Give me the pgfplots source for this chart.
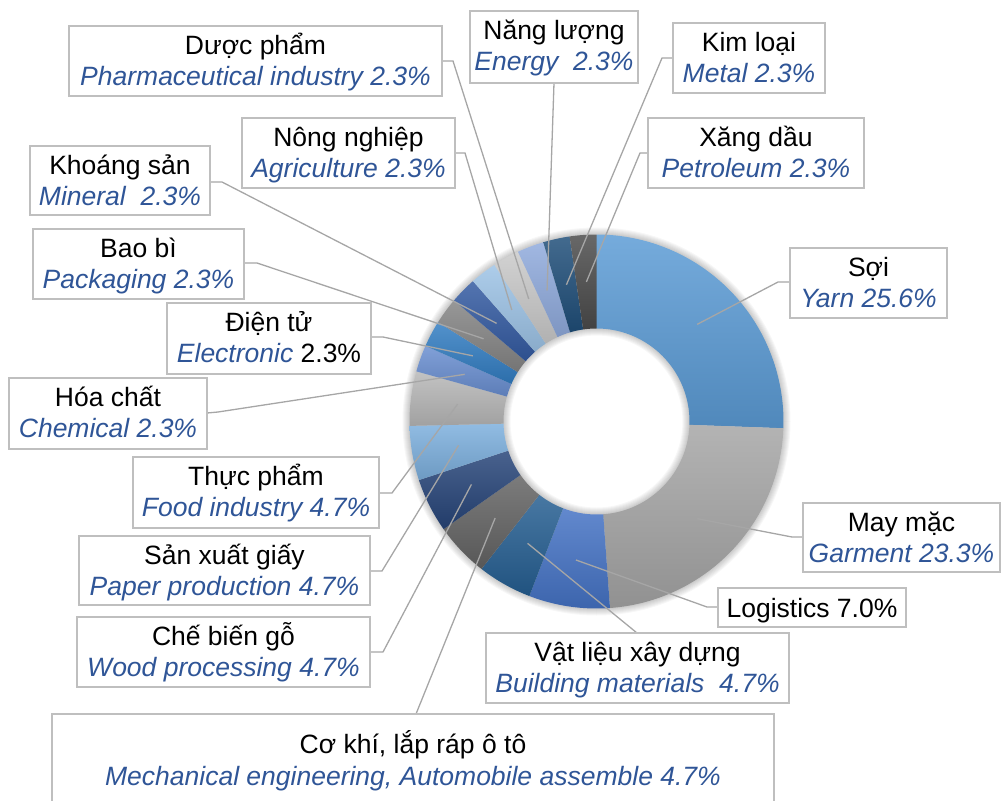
\documentclass[border=0pt]{standalone}
\usepackage{fontspec}
\setmainfont{Liberation Sans}
\usepackage{pgfplots}
\pgfplotsset{compat=1.18}

\definecolor{c1}{HTML}{5B9BD5}
\definecolor{c2}{HTML}{A5A5A5}
\definecolor{c3}{HTML}{4472C4}
\definecolor{c4}{HTML}{255E91}
\definecolor{c5}{HTML}{636363}
\definecolor{c6}{HTML}{264478}
\definecolor{c7}{HTML}{7CAFDD}
\definecolor{c8}{HTML}{B7B7B7}
\definecolor{c9}{HTML}{698ED0}
\definecolor{c10}{HTML}{327DC2}
\definecolor{c11}{HTML}{848484}
\definecolor{c12}{HTML}{335AA1}
\definecolor{c13}{HTML}{9DC3E6}
\definecolor{c14}{HTML}{C9C9C9}
\definecolor{c15}{HTML}{8FAADC}
\definecolor{c16}{HTML}{1F4E79}
\definecolor{c17}{HTML}{4B4B4B}
\definecolor{ltxt}{HTML}{2F5597}
\definecolor{boxc}{HTML}{BFBFBF}
\definecolor{leadc}{HTML}{A6A6A6}

\def\cx{596.5}
\def\cy{421.5}
\def\Ro{187}
\def\Ri{93}
\def\Rm{140}
\def\k{3.596404}

% #1 start (cumulative %), #2 end (cumulative %), #3 colour, #4 index
\newcommand\slice[4]{%
  \shade[top color=#3!84!white, bottom color=#3!88!black]
    (axis cs:{\cx+\Ro*cos(90-\k*#1)},{\cy-\Ro*sin(90-\k*#1)})
    arc[start angle={90-\k*#1}, end angle={90-\k*#2}, radius=\Ro pt]
    -- (axis cs:{\cx+\Ri*cos(90-\k*#2)},{\cy-\Ri*sin(90-\k*#2)})
    arc[start angle={90-\k*#2}, end angle={90-\k*#1}, radius=\Ri pt] -- cycle;
  \coordinate (m#4) at (axis cs:{\cx+\Rm*cos(90-\k*(#1+#2)/2)},{\cy-\Rm*sin(90-\k*(#1+#2)/2)});
}
\newcommand\B[1]{{\color{ltxt}\itshape #1}}
\newcommand\lab[6]{%
  \filldraw[fill=white, draw=boxc, line width=1.4pt] (axis cs:#1,#2) rectangle (axis cs:#3,#4);
  \node[anchor=base, inner sep=0pt] at (axis cs:{(#1+#3)/2},{#2+28.5}) {#5};
  \node[anchor=base, inner sep=0pt] at (axis cs:{(#1+#3)/2},{#2+59.5}) {#6};
}

\begin{document}
\fontsize{26.5}{31}\selectfont
\begin{tikzpicture}[every node/.style={font=\fontsize{26.5}{31}\selectfont}]
\begin{axis}[name=ax, x=1pt, y=1pt, xmin=0, xmax=1005, ymin=0, ymax=801,
  y dir=reverse, hide axis, clip=false]
% soft shadow
\pgfplotsinvokeforeach{1,...,7}{
  \fill[black, opacity=0.03, even odd rule] (axis cs:\cx,\cy) circle[radius={(\Ro+#1)*1pt}]
     (axis cs:\cx,\cy) circle[radius={(\Ri-#1)*1pt}];
}
% slices: cumulative percentages
\slice{0}{25.6}{c1}{1}     % Soi 25.6
\slice{25.6}{48.9}{c2}{2}  % May mac 23.3
\slice{48.9}{55.9}{c3}{3}  % Logistics 7.0
\slice{55.9}{60.6}{c4}{4}  % Vat lieu 4.7
\slice{60.6}{65.3}{c5}{5}  % Co khi 4.7
\slice{65.3}{70.0}{c6}{6}  % Che bien go 4.7
\slice{70.0}{74.7}{c7}{7}  % San xuat giay 4.7
\slice{74.7}{79.4}{c8}{8}  % Thuc pham 4.7
\slice{79.4}{81.7}{c9}{9}  % Hoa chat 2.3
\slice{81.7}{84.0}{c10}{10} % Dien tu 2.3
\slice{84.0}{86.3}{c11}{11} % Bao bi 2.3
\slice{86.3}{88.6}{c12}{12} % Khoang san 2.3
\slice{88.6}{90.9}{c13}{13} % Nong nghiep 2.3
\slice{90.9}{93.2}{c14}{14} % Duoc pham 2.3
\slice{93.2}{95.5}{c15}{15} % Nang luong 2.3
\slice{95.5}{97.8}{c16}{16} % Kim loai 2.3
\slice{97.8}{100.1}{c17}{17} % Xang dau 2.3
% leader lines
\begin{scope}[leadc, line width=1.3pt]
\draw (axis cs:790,282) -- (axis cs:778,282) -- (m1);
\draw (axis cs:803,537) -- (axis cs:792,537) -- (m2);
\draw (axis cs:718,607) -- (axis cs:707,607) -- (m3);
\draw (axis cs:637,633) -- (m4);
\draw (axis cs:416,714) -- (m5);
\draw (axis cs:370,652) -- (axis cs:383,652) -- (m6);
\draw (axis cs:370,571) -- (axis cs:382,571) -- (m7);
\draw (axis cs:379,493) -- (axis cs:392,493) -- (m8);
\draw (axis cs:207,413) -- (axis cs:218,412) -- (m9);
\draw (axis cs:371,337) -- (axis cs:383,337) -- (m10);
\draw (axis cs:244,263) -- (axis cs:257,263) -- (m11);
\draw (axis cs:210,182) -- (axis cs:222,182) -- (m12);
\draw (axis cs:455,153) -- (axis cs:465,153) -- (m13);
\draw (axis cs:442,61) -- (axis cs:453,61) -- (m14);
\draw (axis cs:554,83) -- (m15);
\draw (axis cs:673,58) -- (axis cs:662,58) -- (m16);
\draw (axis cs:648,153) -- (axis cs:640,153) -- (m17);
\end{scope}
% labels
\lab{790}{248}{947}{318}{Sợi}{\B{Yarn 25.6\%}}
\lab{803}{503}{1000}{572}{May mặc}{\B{Garment 23.3\%}}
\filldraw[fill=white, draw=boxc, line width=1.4pt] (axis cs:718,588) rectangle (axis cs:906,627);
\node[anchor=base, inner sep=0pt] at (axis cs:812,617) {Logistics 7.0\%};
\lab{486}{633}{789}{703}{Vật liệu xây dựng}{\B{Building materials~~4.7\%}}
\filldraw[fill=white, draw=boxc, line width=1.4pt] (axis cs:52,714) rectangle (axis cs:774,830);
\node[anchor=base, inner sep=0pt] at (axis cs:413,753) {Cơ khí, lắp ráp ô tô};
\node[anchor=base, inner sep=0pt] at (axis cs:413,785) {\B{Mechanical engineering, Automobile assemble 4.7\%}};
\lab{77}{617}{370}{687}{Chế biến gỗ}{\B{Wood processing 4.7\%}}
\lab{79}{536}{370}{605}{Sản xuất giấy}{\B{Paper production 4.7\%}}
\lab{133}{457}{379}{528}{Thực phẩm}{\B{Food industry 4.7\%}}
\lab{9}{378}{207}{449}{Hóa chất}{\B{Chemical 2.3\%}}
\lab{167}{303}{371}{374}{Điện tử}{\B{Electronic} 2.3\%}
\lab{33}{229}{244}{299}{Bao bì}{\B{Packaging 2.3\%}}
\lab{30}{146}{210}{215}{Khoáng sản}{\B{Mineral~~2.3\%}}
\lab{242}{118}{455}{188}{Nông nghiệp}{\B{Agriculture 2.3\%}}
\lab{69}{26}{442}{96}{Dược phẩm}{\B{Pharmaceutical industry 2.3\%}}
\lab{470}{11}{638}{83}{Năng lượng}{\B{Energy~~2.3\%}}
\lab{673}{23}{825}{93}{Kim loại}{\B{Metal 2.3\%}}
\lab{648}{118}{864}{188}{Xăng dầu}{\B{Petroleum 2.3\%}}
\end{axis}
\pgfresetboundingbox
\path (ax.south west) rectangle (ax.north east);
\end{tikzpicture}
\end{document}
